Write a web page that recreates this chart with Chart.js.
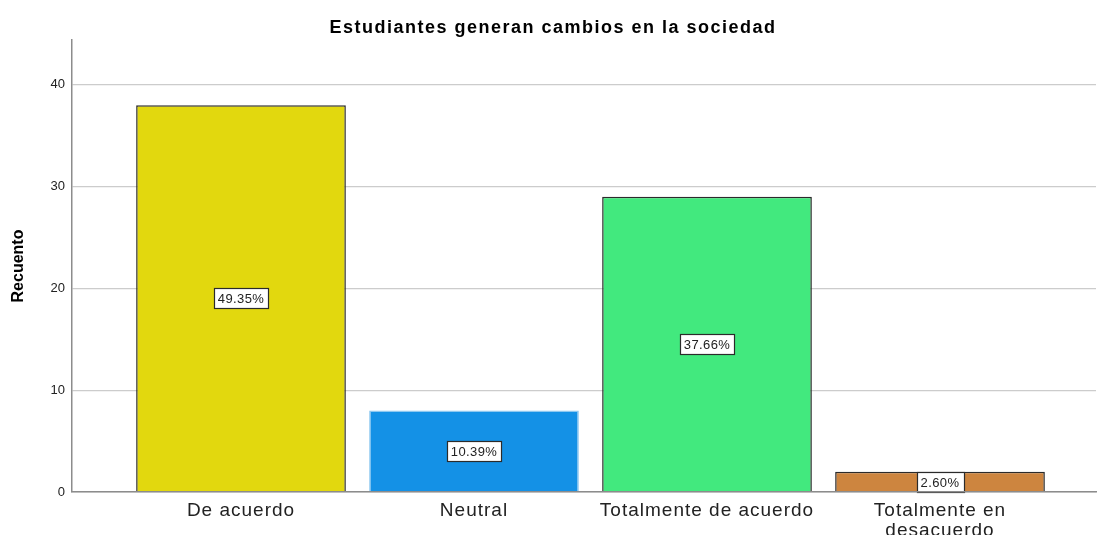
<!DOCTYPE html>
<html>
<head>
<meta charset="utf-8">
<script src="https://cdn.jsdelivr.net/npm/chart.js@4"></script>
<style>
  body { margin: 0; background: #fff; }
  #myChart { display: block; }
</style>
</head>
<body>
<canvas id="myChart" width="1097" height="535"></canvas>
<script>
const chartTitle = "Estudiantes generan cambios en la sociedad";
const categories = ["De acuerdo", "Neutral", "Totalmente de acuerdo", ["Totalmente en", "desacuerdo"]];
const counts = [38, 8, 29, 2];
const percentLabels = ["49.35%", "10.39%", "37.66%", "2.60%"];
const barColors = ["#e2d80e", "#1491e6", "#42e97e", "#cd853f"];
const barBorders = ["#2b2b2b", "#8ec8f0", "#2b2b2b", "#2b2b2b"];
const yTicks = [0, 10, 20, 30, 40];

// little white boxes with the percentage in the middle of each bar,
// plus the wider letter spacing that the category labels and title have
const percentBoxes = {
  id: "percentBoxes",
  beforeRender(chart) {
    chart.ctx.letterSpacing = "0px";
  },
  afterDatasetsDraw(chart) {
    const ctx = chart.ctx;
    const meta = chart.getDatasetMeta(0);
    ctx.save();
    ctx.font = "13px 'Liberation Sans', Arial, sans-serif";
    ctx.letterSpacing = "0.4px";
    ctx.textAlign = "center";
    ctx.textBaseline = "middle";
    meta.data.forEach((bar, i) => {
      const cy = (bar.y + bar.base) / 2;
      const w = Math.round(ctx.measureText(percentLabels[i]).width + 8);
      const h = 20;
      const left = Math.round(bar.x - w / 2);
      const top = Math.round(cy - h / 2);
      ctx.fillStyle = "#ffffff";
      ctx.fillRect(left, top, w, h);
      ctx.strokeStyle = "#2b2b2b";
      ctx.lineWidth = 1.2;
      ctx.strokeRect(left + 0.5, top + 0.5, w, h);
      ctx.fillStyle = "#222222";
      ctx.fillText(percentLabels[i], bar.x, cy + 1.5);
    });
    ctx.restore();
    // x tick labels (ticks.z: 1) are drawn after this, with spaced letters
    ctx.letterSpacing = "1px";
  },
  afterDraw(chart) {
    const ctx = chart.ctx;
    ctx.save();
    ctx.letterSpacing = "1.5px";
    ctx.font = "bold 18px 'Liberation Sans', Arial, sans-serif";
    ctx.fillStyle = "#000000";
    ctx.textAlign = "center";
    ctx.textBaseline = "middle";
    ctx.fillText(chartTitle, 553, 28);
    ctx.restore();
    ctx.letterSpacing = "0px";
  },
};

const ctx = document.getElementById("myChart").getContext("2d");

const myChart = new Chart(ctx, {
  type: "bar",
  data: {
    datasets: [
      {
        data: counts.map((c, i) => ({ x: i, y: c })),
        backgroundColor: barColors,
        borderColor: barBorders,
        borderWidth: 1.5,
        categoryPercentage: 1,
        barPercentage: 0.9,
      },
    ],
  },
  options: {
    responsive: false,
    animation: false,
    layout: {
      padding: { top: 40, right: 1, bottom: 0, left: 0 },
    },
    scales: {
      x: {
        type: "linear",
        offset: false,
        min: -0.7253,
        max: 3.6695,
        grid: { display: false, drawTicks: false, offset: false },
        border: { display: true, color: "#8c8c8c", width: 1.5, z: 1 },
        afterBuildTicks: (scale) => {
          scale.ticks = categories.map((c, i) => ({ value: i }));
        },
        afterFit: (scale) => {
          scale.height = 43;
        },
        ticks: {
          z: 1,
          autoSkip: false,
          maxRotation: 0,
          padding: 9,
          color: "#222222",
          font: { family: "'Liberation Sans', Arial, sans-serif", size: 19, lineHeight: 1.05 },
          callback: function (value) {
            return categories[value];
          },
        },
      },
      y: {
        min: 0,
        max: 44.4,
        grid: { color: "#cccccc", drawTicks: false, lineWidth: 1.2 },
        border: { display: true, color: "#8c8c8c", width: 1.5 },
        afterBuildTicks: (scale) => {
          scale.ticks = yTicks.map((v) => ({ value: v }));
        },
        afterFit: (scale) => {
          scale.width = 72;
        },
        ticks: {
          padding: 7,
          color: "#222222",
          font: { family: "'Liberation Sans', Arial, sans-serif", size: 13 },
        },
        title: {
          display: true,
          text: "Recuento",
          color: "#000000",
          padding: { top: 9, bottom: 0 },
          font: { family: "'Liberation Sans', Arial, sans-serif", size: 16, weight: "bold" },
        },
      },
    },
    plugins: {
      legend: { display: false },
      tooltip: { enabled: false },
      title: { display: false },
    },
  },
  plugins: [percentBoxes],
});
</script>
</body>
</html>
